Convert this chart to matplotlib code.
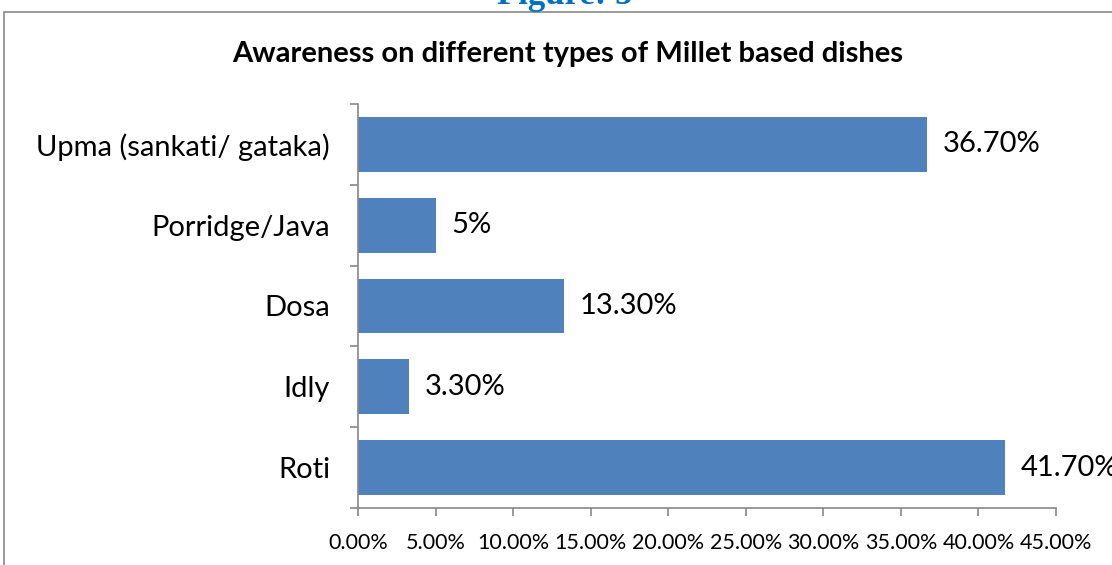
import matplotlib.pyplot as plt
from matplotlib.patches import Rectangle
from matplotlib.ticker import FuncFormatter, FixedLocator

# Awareness of millet dishes (share of respondents, %)
dishes = ['Roti', 'Idly', 'Dosa', 'Porridge/Java', 'Upma (sankati/ gataka)']
awareness = [41.7, 3.3, 13.3, 5.0, 36.7]
value_labels = ['41.70%', '3.30%', '13.30%', '5%', '36.70%']

plt.rcParams['font.family'] = ['Lato', 'DejaVu Sans']

fig = plt.figure(figsize=(11.12, 5.65), dpi=100)
ax = fig.add_axes([358 / 1112, 57 / 565, 698 / 1112, 404 / 565])

pos = range(len(dishes))
ax.barh(pos, awareness, height=0.68, color='#4F81BD')
for p, v, lab in zip(pos, awareness, value_labels):
    ax.text(v + 1.0, p, lab, va='center', ha='left', fontsize=21, clip_on=False)

ax.set_xlim(0, 45)
ax.set_ylim(-0.5, len(dishes) - 0.5)
ax.set_xticks(range(0, 46, 5))
ax.xaxis.set_major_formatter(FuncFormatter(lambda x, _: f'{x:.2f}%'))
ax.set_yticks(list(pos))
ax.set_yticklabels(dishes, fontsize=21)
ax.yaxis.set_minor_locator(FixedLocator([i - 0.5 for i in range(len(dishes) + 1)]))
ax.tick_params(axis='y', which='major', length=0, pad=20)
ax.tick_params(axis='y', which='minor', length=6, color='#888888', width=1.2)
ax.tick_params(axis='x', length=6, color='#888888', width=1.2, labelsize=15.5, pad=12)

for side in ['top', 'right']:
    ax.spines[side].set_visible(False)
for side in ['left', 'bottom']:
    ax.spines[side].set_color('#888888')
    ax.spines[side].set_linewidth(1.2)

fig.text(568 / 1112, 1 - 54 / 565, 'Awareness on different types of Millet based dishes',
         ha='center', va='center', fontsize=21, fontweight='bold')

# chart frame and figure caption above it
fig.patches.append(Rectangle((4 / 1112, -0.05), 1.2, 1 - 12 / 565 + 0.05,
                             transform=fig.transFigure, fill=False,
                             edgecolor='#888888', linewidth=1.2))
fig.text(565 / 1112, 1.008, 'Figure: 5', ha='center', va='center', fontsize=25,
         fontweight='bold', color='#0070C0', family=['Liberation Serif', 'DejaVu Serif'])

fig.savefig('out.png', dpi=100)
